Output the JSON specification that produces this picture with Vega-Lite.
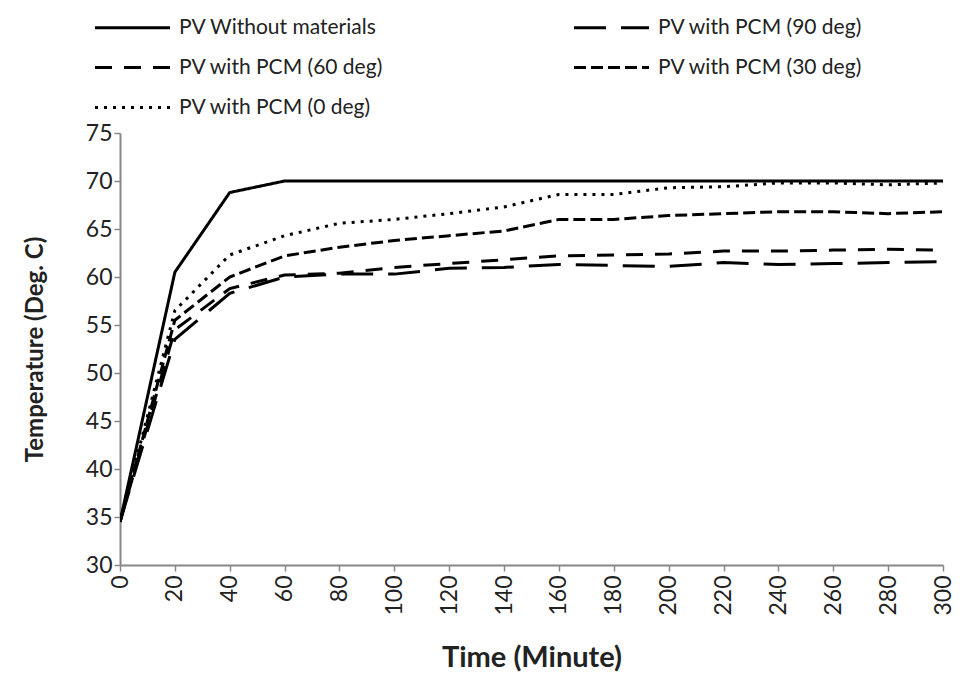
{
  "$schema": "https://vega.github.io/schema/vega-lite/v6.json",
  "width": 823,
  "height": 432,
  "autosize": {"type": "none"},
  "padding": {"left": 120, "top": 133, "right": 25, "bottom": 110},
  "background": "white",
  "config": {
    "font": "Lato",
    "view": {"stroke": null}
  },
  "data": {
    "values": [
      {"t": 0, "series": "PV Without materials", "temp": 34.5},
      {"t": 20, "series": "PV Without materials", "temp": 60.5},
      {"t": 40, "series": "PV Without materials", "temp": 68.8},
      {"t": 60, "series": "PV Without materials", "temp": 70},
      {"t": 80, "series": "PV Without materials", "temp": 70},
      {"t": 100, "series": "PV Without materials", "temp": 70},
      {"t": 120, "series": "PV Without materials", "temp": 70},
      {"t": 140, "series": "PV Without materials", "temp": 70},
      {"t": 160, "series": "PV Without materials", "temp": 70},
      {"t": 180, "series": "PV Without materials", "temp": 70},
      {"t": 200, "series": "PV Without materials", "temp": 70},
      {"t": 220, "series": "PV Without materials", "temp": 70},
      {"t": 240, "series": "PV Without materials", "temp": 70},
      {"t": 260, "series": "PV Without materials", "temp": 70},
      {"t": 280, "series": "PV Without materials", "temp": 70},
      {"t": 300, "series": "PV Without materials", "temp": 70},

      {"t": 0, "series": "PV with PCM  (90 deg)", "temp": 34.5},
      {"t": 20, "series": "PV with PCM  (90 deg)", "temp": 53.5},
      {"t": 40, "series": "PV with PCM  (90 deg)", "temp": 58.3},
      {"t": 60, "series": "PV with PCM  (90 deg)", "temp": 60},
      {"t": 80, "series": "PV with PCM  (90 deg)", "temp": 60.3},
      {"t": 100, "series": "PV with PCM  (90 deg)", "temp": 60.3},
      {"t": 120, "series": "PV with PCM  (90 deg)", "temp": 60.9},
      {"t": 140, "series": "PV with PCM  (90 deg)", "temp": 61},
      {"t": 160, "series": "PV with PCM  (90 deg)", "temp": 61.3},
      {"t": 180, "series": "PV with PCM  (90 deg)", "temp": 61.2},
      {"t": 200, "series": "PV with PCM  (90 deg)", "temp": 61.1},
      {"t": 220, "series": "PV with PCM  (90 deg)", "temp": 61.5},
      {"t": 240, "series": "PV with PCM  (90 deg)", "temp": 61.3},
      {"t": 260, "series": "PV with PCM  (90 deg)", "temp": 61.4},
      {"t": 280, "series": "PV with PCM  (90 deg)", "temp": 61.5},
      {"t": 300, "series": "PV with PCM  (90 deg)", "temp": 61.6},

      {"t": 0, "series": "PV with PCM  (60 deg)", "temp": 34.5},
      {"t": 20, "series": "PV with PCM  (60 deg)", "temp": 54.5},
      {"t": 40, "series": "PV with PCM  (60 deg)", "temp": 58.8},
      {"t": 60, "series": "PV with PCM  (60 deg)", "temp": 60.2},
      {"t": 80, "series": "PV with PCM  (60 deg)", "temp": 60.4},
      {"t": 100, "series": "PV with PCM  (60 deg)", "temp": 61},
      {"t": 120, "series": "PV with PCM  (60 deg)", "temp": 61.4},
      {"t": 140, "series": "PV with PCM  (60 deg)", "temp": 61.8},
      {"t": 160, "series": "PV with PCM  (60 deg)", "temp": 62.2},
      {"t": 180, "series": "PV with PCM  (60 deg)", "temp": 62.3},
      {"t": 200, "series": "PV with PCM  (60 deg)", "temp": 62.4},
      {"t": 220, "series": "PV with PCM  (60 deg)", "temp": 62.7},
      {"t": 240, "series": "PV with PCM  (60 deg)", "temp": 62.7},
      {"t": 260, "series": "PV with PCM  (60 deg)", "temp": 62.8},
      {"t": 280, "series": "PV with PCM  (60 deg)", "temp": 62.9},
      {"t": 300, "series": "PV with PCM  (60 deg)", "temp": 62.8},

      {"t": 0, "series": "PV with PCM  (30 deg)", "temp": 34.5},
      {"t": 20, "series": "PV with PCM  (30 deg)", "temp": 55.5},
      {"t": 40, "series": "PV with PCM  (30 deg)", "temp": 60},
      {"t": 60, "series": "PV with PCM  (30 deg)", "temp": 62.2},
      {"t": 80, "series": "PV with PCM  (30 deg)", "temp": 63.1},
      {"t": 100, "series": "PV with PCM  (30 deg)", "temp": 63.8},
      {"t": 120, "series": "PV with PCM  (30 deg)", "temp": 64.3},
      {"t": 140, "series": "PV with PCM  (30 deg)", "temp": 64.8},
      {"t": 160, "series": "PV with PCM  (30 deg)", "temp": 66},
      {"t": 180, "series": "PV with PCM  (30 deg)", "temp": 66},
      {"t": 200, "series": "PV with PCM  (30 deg)", "temp": 66.4},
      {"t": 220, "series": "PV with PCM  (30 deg)", "temp": 66.6},
      {"t": 240, "series": "PV with PCM  (30 deg)", "temp": 66.8},
      {"t": 260, "series": "PV with PCM  (30 deg)", "temp": 66.8},
      {"t": 280, "series": "PV with PCM  (30 deg)", "temp": 66.6},
      {"t": 300, "series": "PV with PCM  (30 deg)", "temp": 66.8},

      {"t": 0, "series": "PV with PCM  (0 deg)", "temp": 34.5},
      {"t": 20, "series": "PV with PCM  (0 deg)", "temp": 56.5},
      {"t": 40, "series": "PV with PCM  (0 deg)", "temp": 62.3},
      {"t": 60, "series": "PV with PCM  (0 deg)", "temp": 64.3},
      {"t": 80, "series": "PV with PCM  (0 deg)", "temp": 65.6},
      {"t": 100, "series": "PV with PCM  (0 deg)", "temp": 66},
      {"t": 120, "series": "PV with PCM  (0 deg)", "temp": 66.6},
      {"t": 140, "series": "PV with PCM  (0 deg)", "temp": 67.3},
      {"t": 160, "series": "PV with PCM  (0 deg)", "temp": 68.6},
      {"t": 180, "series": "PV with PCM  (0 deg)", "temp": 68.6},
      {"t": 200, "series": "PV with PCM  (0 deg)", "temp": 69.3},
      {"t": 220, "series": "PV with PCM  (0 deg)", "temp": 69.4},
      {"t": 240, "series": "PV with PCM  (0 deg)", "temp": 69.8},
      {"t": 260, "series": "PV with PCM  (0 deg)", "temp": 69.8},
      {"t": 280, "series": "PV with PCM  (0 deg)", "temp": 69.6},
      {"t": 300, "series": "PV with PCM  (0 deg)", "temp": 69.8}
    ]
  },
  "mark": {"type": "line", "color": "black", "strokeWidth": 3, "clip": true},
  "encoding": {
    "x": {
      "field": "t",
      "type": "quantitative",
      "scale": {"domain": [0, 300], "nice": false},
      "axis": {
        "values": [0, 20, 40, 60, 80, 100, 120, 140, 160, 180, 200, 220, 240, 260, 280, 300],
        "title": "Time (Minute)",
        "titleFont": "Lato",
        "titleFontSize": 29,
        "titleFontWeight": "bold",
        "titleColor": "#222",
        "titlePadding": 28,
        "labelAngle": -90,
        "labelFontSize": 23,
        "labelColor": "#222",
        "labelPadding": 4,
        "domainColor": "#888",
        "domainWidth": 2,
        "tickColor": "#888",
        "tickWidth": 1.5,
        "tickSize": 6,
        "grid": false
      }
    },
    "y": {
      "field": "temp",
      "type": "quantitative",
      "scale": {"domain": [30, 75], "nice": false, "zero": false},
      "axis": {
        "values": [30, 35, 40, 45, 50, 55, 60, 65, 70, 75],
        "title": "Temperature (Deg. C)",
        "titleFont": "Lato",
        "titleFontSize": 24,
        "titleFontWeight": "bold",
        "titleColor": "#222",
        "titlePadding": 38,
        "labelFontSize": 23,
        "labelColor": "#222",
        "labelPadding": 2,
        "domainColor": "#888",
        "domainWidth": 2,
        "tickColor": "#888",
        "tickWidth": 1.5,
        "tickSize": 6,
        "grid": false
      }
    },
    "strokeDash": {
      "field": "series",
      "type": "nominal",
      "scale": {
        "domain": ["PV Without materials", "PV with PCM  (60 deg)", "PV with PCM  (0 deg)", "PV with PCM  (90 deg)", "PV with PCM  (30 deg)"],
        "range": [[1, 0], [17, 12], [3, 6], [32, 15], [12, 5]]
      },
      "legend": {
        "title": null,
        "orient": "none",
        "legendX": 2,
        "legendY": -116,
        "columns": 2,
        "columnPadding": 179,
        "rowPadding": 18,
        "symbolType": "M-5,0H5",
        "symbolSize": 225,
        "symbolStrokeWidth": 3,
        "symbolStrokeColor": "black",
        "labelFontSize": 21,
        "labelColor": "#222",
        "labelOffset": 36,
        "labelLimit": 320
      }
    }
  }
}
